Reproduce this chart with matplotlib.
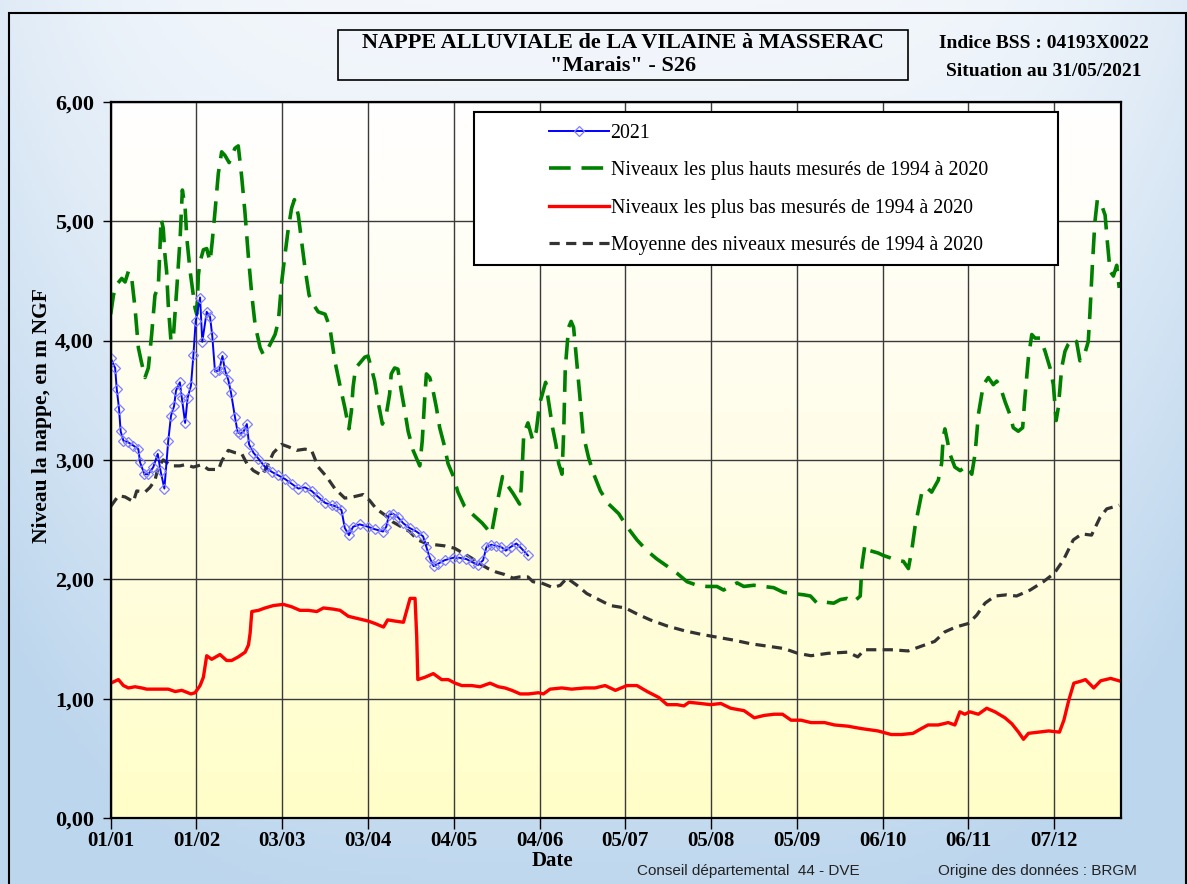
import numpy as np
import matplotlib
matplotlib.use("Agg")
import matplotlib.pyplot as plt
from matplotlib.patches import Rectangle
from matplotlib.colors import LinearSegmentedColormap

# ---------------- data ----------------
x_tick_days = [0, 31, 62, 93, 124, 155, 186, 217, 248, 279, 310, 341]
x_tick_labels = ["01/01", "01/02", "03/03", "03/04", "04/05", "04/06",
                 "05/07", "05/08", "05/09", "06/10", "06/11", "07/12"]
y_ticks = [0, 1, 2, 3, 4, 5, 6]
y_tick_labels = ["0,00", "1,00", "2,00", "3,00", "4,00", "5,00", "6,00"]

days_2021 = [0, 1.6, 2.2, 3, 3.6, 4.6, 6.1, 8.2, 10, 10.6, 12.2, 13.6, 15.4, 17, 18, 19.4,
             20.8, 21.8, 22.9, 23.6, 25, 25.7, 26.9, 27.8, 29, 29.9, 30.7, 32.3, 33.1, 34.7,
             35.9, 36.7, 37.7, 39.2, 40.4, 41.3, 42.5, 43.5, 44.9, 45.9, 46.7, 47.9, 49.2, 50,
             51.6, 53.4, 55.8, 58.2, 60.6, 63, 65.4, 67.8, 70.2, 72.6, 75, 77.5, 80, 81.5,
             83.4, 84.6, 86.1, 87.6, 90, 93, 95.4, 98.4, 99.6, 100.6, 102, 103.8, 105.7, 108,
             110.5, 112.9, 114.1, 115.3, 116.7, 118.3, 120.7, 123.7, 126, 128.5, 131, 132.8,
             134.6, 135.8, 137.6, 139.4, 141.2, 142.8, 144.5, 146.6, 148.4, 150.8]
level_2021 = [3.85, 3.77, 3.59, 3.43, 3.24, 3.16, 3.15, 3.12, 3.09, 2.98, 2.88, 2.88, 2.94, 3.05,
              2.91, 2.76, 3.16, 3.37, 3.45, 3.58, 3.65, 3.52, 3.31, 3.52, 3.62, 3.88, 4.16, 4.36,
              3.99, 4.24, 4.20, 4.04, 3.74, 3.75, 3.87, 3.75, 3.67, 3.56, 3.36, 3.23, 3.22, 3.23,
              3.30, 3.13, 3.06, 3.01, 2.94, 2.90, 2.87, 2.84, 2.80, 2.76, 2.77, 2.74, 2.69, 2.64,
              2.62, 2.61, 2.58, 2.43, 2.37, 2.44, 2.46, 2.44, 2.42, 2.40, 2.44, 2.54, 2.55, 2.52,
              2.47, 2.43, 2.40, 2.36, 2.27, 2.18, 2.11, 2.13, 2.16, 2.18, 2.18, 2.17, 2.14, 2.12,
              2.16, 2.27, 2.29, 2.28, 2.27, 2.24, 2.27, 2.30, 2.26, 2.20]

days_max = [0, 1, 2.2, 4, 5.2, 6.4, 7.6, 8.8, 10, 11, 12.4, 13.6, 14.8, 16, 17.2, 17.8, 18.2, 19,
            19.6, 20.2, 20.8, 21.8, 22.7, 23.9, 25.1, 25.9, 26.9, 27.5, 28.7, 29.5, 30.5, 31.1,
            31.7, 32.3, 33.5, 34.7, 35.9, 36.7, 37.7, 38.9, 40.1, 41.3, 42.8, 44.9, 46.1, 47.3,
            48.5, 49.7, 51, 52.2, 54, 55.2, 57, 59.4, 60.6, 61.8, 63, 64.2, 65.4, 66.4, 67.8,
            69, 70.2, 71.7, 73.3, 75, 77.5, 79.2, 81, 82.8, 84.6, 86.1, 87, 87.6, 88.5, 90,
            91.8, 93, 94.2, 95.4, 96.6, 98.2, 99.6, 100.8, 101.4, 102.6, 103.8, 105, 106.3,
            107.5, 109.3, 111.7, 112.6, 113.5, 114.1, 115.3, 116.5, 117.7, 118.9, 120.7, 121.9,
            123.7, 125.5, 127.9, 131, 134.3, 137.6, 139.4, 141.6, 143, 145.4, 147.8, 148.4,
            149.3, 150.8, 152.6, 153.8, 155, 156, 157.2, 158.5, 159.7, 160.9, 161.9, 163.1,
            163.7, 164.3, 165.5, 166.4, 167.3, 168.3, 169.5, 170.7, 172.7, 174.6, 177, 180,
            183.6, 186.6, 190.2, 193.8, 197.4, 201.1, 204.7, 208.3, 211.9, 215.5, 219.1, 221.5,
            223.9, 226.4, 228.8, 232.4, 236, 239.6, 243.2, 246.8, 250.5, 252.9, 255.3, 257.7,
            261.3, 263.7, 266.1, 268.5, 270.9, 271.5, 272.6, 274.4, 277.4, 279.2, 281.7, 284,
            286.5, 288.3, 289.5, 290.7, 291.9, 293.1, 294.9, 296.7, 299.1, 300.3, 300.9, 301.5,
            302.4, 303.3, 305.1, 307, 309.4, 311.2, 312.4, 313.6, 314.8, 315.4, 317.2, 319,
            320.2, 321.4, 323.2, 325, 326.2, 328, 329.6, 330.4, 331.7, 332.9, 334.1, 335.9,
            337.7, 339.5, 340.7, 341.7, 342.5, 343.7, 344.9, 346.1, 347.9, 349.1, 350.3, 351.8,
            353.3, 353.9, 354.8, 355.7, 356.6, 358.2, 359.4, 360.2, 361.2, 362.4, 363.6, 364.5]
level_max = [4.22, 4.38, 4.47, 4.52, 4.49, 4.58, 4.52, 4.27, 3.94, 3.83, 3.69, 3.77, 4.05, 4.38,
             4.45, 4.77, 5.02, 4.94, 4.72, 4.58, 4.30, 3.99, 4.05, 4.44, 4.86, 5.26, 5.11, 4.86,
             4.58, 4.44, 4.27, 4.22, 4.55, 4.66, 4.76, 4.77, 4.66, 4.83, 5.08, 5.40, 5.58, 5.55,
             5.49, 5.61, 5.63, 5.38, 5.08, 4.72, 4.38, 4.13, 3.94, 3.88, 3.94, 4.05, 4.16, 4.49,
             4.72, 4.94, 5.11, 5.18, 5.05, 4.83, 4.61, 4.38, 4.30, 4.24, 4.22, 4.11, 3.83, 3.63,
             3.44, 3.26, 3.41, 3.61, 3.77, 3.81, 3.86, 3.87, 3.77, 3.66, 3.49, 3.30, 3.38, 3.55,
             3.72, 3.77, 3.76, 3.58, 3.41, 3.24, 3.08, 2.95, 3.16, 3.52, 3.72, 3.69, 3.58, 3.44,
             3.27, 3.11, 2.97, 2.87, 2.73, 2.61, 2.54, 2.47, 2.38, 2.61, 2.86, 2.80, 2.72, 2.63,
             2.77, 3.22, 3.31, 3.16, 3.24, 3.47, 3.55, 3.65, 3.45, 3.27, 3.13, 2.97, 2.88, 3.22,
             3.77, 4.11, 4.16, 4.11, 3.86, 3.55, 3.22, 3.02, 2.88, 2.74, 2.63, 2.55, 2.44, 2.33,
             2.24, 2.17, 2.11, 2.05, 1.98, 1.95, 1.94, 1.94, 1.91, 1.94, 1.97, 1.94, 1.95, 1.94,
             1.93, 1.89, 1.88, 1.87, 1.86, 1.80, 1.81, 1.80, 1.83, 1.84, 1.81, 1.86, 2.11, 2.29,
             2.24, 2.22, 2.20, 2.18, 2.16, 2.15, 2.09, 2.24, 2.44, 2.58, 2.72, 2.77, 2.73, 2.83,
             2.97, 3.19, 3.26, 3.16, 3.05, 2.94, 2.91, 2.95, 2.88, 3.05, 3.38, 3.55, 3.63, 3.69,
             3.63, 3.66, 3.62, 3.49, 3.38, 3.27, 3.24, 3.27, 3.52, 3.86, 4.05, 4.02, 4.02, 3.91,
             3.77, 3.63, 3.33, 3.44, 3.77, 3.91, 3.97, 4.02, 3.99, 3.83, 3.87, 3.99, 4.22, 4.63,
             4.99, 5.18, 5.13, 5.05, 4.83, 4.58, 4.54, 4.63, 4.44]

days_min = [0, 2.8, 4.6, 6.4, 8.8, 11.2, 13, 16, 20.8, 23.3, 25.7, 29, 30.5, 32.3, 33.5, 34.7,
            36.5, 39.5, 41.9, 43.7, 46.1, 48.6, 49.8, 50.4, 51, 53.4, 55.8, 58.8, 62.4, 65.4,
            68.4, 71.4, 74.5, 76.9, 80.5, 82.9, 85.9, 89.5, 93.1, 95.5, 98.6, 100.1, 102.8,
            105.8, 107, 108.2, 110, 110.6, 111, 113.6, 116.6, 119.6, 122, 124.5, 126.9, 130.5,
            133.5, 137.1, 140.1, 142.5, 145, 148, 151, 154.6, 156.4, 158.8, 163, 166.6, 171.4,
            175, 178.7, 182.4, 186.6, 190.2, 193.9, 198.1, 201.1, 204.7, 207.2, 209, 213.2,
            216.8, 220.5, 224.1, 228.9, 232.6, 236.2, 239.8, 242.8, 245.9, 249.5, 253.1, 258,
            261.6, 266.4, 271.2, 277.3, 282.1, 285.8, 290, 293, 295.4, 299.1, 302.7, 305.1,
            306.9, 308.7, 310.5, 313.6, 316.6, 319.6, 323.2, 325.7, 328.1, 329.9, 331.7, 335.4,
            339, 342.9, 344.5, 346.3, 348.1, 351.1, 352.3, 355.3, 357.8, 361.4, 364.4]
level_min = [1.13, 1.16, 1.11, 1.09, 1.10, 1.09, 1.08, 1.08, 1.08, 1.06, 1.07, 1.04, 1.05, 1.11,
             1.18, 1.36, 1.33, 1.37, 1.32, 1.32, 1.35, 1.39, 1.45, 1.55, 1.73, 1.74, 1.76, 1.78,
             1.79, 1.77, 1.74, 1.74, 1.73, 1.76, 1.75, 1.74, 1.69, 1.67, 1.65, 1.63, 1.60, 1.66,
             1.65, 1.64, 1.74, 1.84, 1.84, 1.52, 1.16, 1.18, 1.21, 1.16, 1.16, 1.13, 1.11, 1.11,
             1.10, 1.13, 1.10, 1.09, 1.07, 1.04, 1.04, 1.05, 1.04, 1.08, 1.09, 1.08, 1.09, 1.09,
             1.11, 1.07, 1.11, 1.11, 1.06, 1.01, 0.95, 0.95, 0.94, 0.97, 0.96, 0.95, 0.96, 0.92,
             0.90, 0.84, 0.86, 0.87, 0.87, 0.82, 0.82, 0.80, 0.80, 0.78, 0.77, 0.75, 0.73, 0.70,
             0.70, 0.71, 0.75, 0.78, 0.78, 0.80, 0.78, 0.89, 0.87, 0.89, 0.87, 0.92, 0.89, 0.84,
             0.79, 0.72, 0.66, 0.71, 0.72, 0.73, 0.72, 0.82, 0.99, 1.13, 1.15, 1.16, 1.09, 1.15,
             1.17, 1.15]

days_mean = [0, 2.8, 5.2, 8.2, 9.4, 12.4, 14.2, 16, 17.2, 19, 22, 25, 26.9, 29.9, 32.9, 35.3,
             39, 40.1, 42.5, 45, 47.4, 49.2, 51.6, 54.6, 56.4, 58.8, 61.8, 64.2, 67.2, 70.2,
             72.6, 75, 78, 81, 84.6, 87.6, 91.2, 93.6, 96, 99, 102, 105, 108, 111, 114, 117,
             120.7, 124.3, 127.3, 130.3, 133.4, 136.4, 139.4, 142.4, 145.4, 147.8, 150.8, 152.6,
             155.6, 159.9, 162.5, 164.9, 168.5, 172.1, 176.4, 180.6, 186, 190.2, 195, 201,
             207.2, 213.2, 218, 225.3, 231.3, 237.4, 243.4, 248.3, 253.1, 259.2, 266.4, 270,
             272.5, 277.3, 282.1, 288.2, 293, 297.8, 301.5, 305.4, 310, 313, 316, 319.6, 323.8,
             327.4, 332.3, 337.1, 341, 344.3, 347.9, 351, 354.5, 357.6, 360, 364.5]
level_mean = [2.61, 2.70, 2.69, 2.65, 2.74, 2.73, 2.77, 2.83, 2.94, 3.00, 2.95, 2.95, 2.96,
              2.94, 2.96, 2.92, 2.92, 2.99, 3.08, 3.06, 3.05, 2.97, 2.91, 2.87, 2.94, 3.06,
              3.13, 3.11, 3.08, 3.09, 3.08, 2.94, 2.86, 2.76, 2.68, 2.69, 2.71, 2.66, 2.59,
              2.54, 2.48, 2.44, 2.40, 2.33, 2.30, 2.29, 2.28, 2.26, 2.22, 2.18, 2.13, 2.09,
              2.06, 2.04, 2.01, 2.02, 2.02, 1.98, 1.97, 1.93, 1.95, 2.01, 1.95, 1.88, 1.83,
              1.78, 1.76, 1.71, 1.66, 1.61, 1.57, 1.54, 1.52, 1.49, 1.46, 1.44, 1.42, 1.38,
              1.36, 1.38, 1.39, 1.35, 1.41, 1.41, 1.41, 1.40, 1.44, 1.48, 1.56, 1.60, 1.63,
              1.70, 1.80, 1.86, 1.87, 1.86, 1.91, 1.98, 2.05, 2.16, 2.33, 2.38, 2.37, 2.52,
              2.59, 2.62]

series_labels = ["2021",
                 "Niveaux les plus hauts mesurés de 1994 à 2020",
                 "Niveaux les plus bas mesurés de 1994 à 2020",
                 "Moyenne des niveaux mesurés de 1994 à 2020"]

# ---------------- figure ----------------
W, H = 1187, 884
fig = plt.figure(figsize=(W / 100, H / 100), dpi=100)

# figure background gradient (near white at top, light blue at bottom / sides)
bg_ax = fig.add_axes([0, 0, 1, 1], zorder=-10)
yy = np.linspace(0, 1, 200)[:, None]
xx = np.linspace(0, 1, 300)[None, :]
edge = np.clip(np.abs(xx - 0.5) * 2, 0, 1) ** 4
t = np.clip(0.05 + 0.9 * yy ** 1.2 + 0.35 * edge, 0, 1)
top = np.array([0.965, 0.975, 0.99])
bot = np.array([0.74, 0.84, 0.93])
img = top[None, None, :] * (1 - t[..., None]) + bot[None, None, :] * t[..., None]
bg_ax.imshow(img, extent=[0, 1, 0, 1], aspect="auto", origin="upper")
bg_ax.set_xlim(0, 1)
bg_ax.set_ylim(0, 1)
bg_ax.axis("off")
bg_ax.add_patch(Rectangle((9 / W, -0.01), (W - 10) / W, 1.01 - 13 / H, fill=False,
                          edgecolor="black", linewidth=1.5, transform=bg_ax.transAxes))

ax_left, ax_right, ax_top, ax_bot = 110.7, 1120.6, 101.7, 818.1
ax = fig.add_axes([ax_left / W, (H - ax_bot) / H, (ax_right - ax_left) / W, (ax_bot - ax_top) / H])

# plot area gradient white -> light yellow
cmap = LinearSegmentedColormap.from_list("wy", ["#ffffff", "#fffde8", "#ffffc8"])
grad = np.linspace(0, 1, 256)[:, None]
ax.imshow(grad, cmap=cmap, extent=[0, 1, 0, 1], transform=ax.transAxes,
          aspect="auto", origin="upper", zorder=0)

ax.set_xlim(0, 365)
ax.set_ylim(0, 6)

serif = "Liberation Serif"
ax.set_xticks(x_tick_days)
ax.set_xticklabels(x_tick_labels, fontfamily=serif, fontweight="bold", fontsize=15)
ax.set_yticks(y_ticks)
ax.set_yticklabels(y_tick_labels, fontfamily=serif, fontweight="bold", fontsize=16)
ax.tick_params(axis="x", direction="out", length=8, width=1, pad=1)
ax.tick_params(axis="y", direction="out", length=6, width=1, pad=6)
ax.grid(True, color="#3a3a3a", linewidth=1.0, zorder=1)
ax.set_axisbelow(False)
for s in ax.spines.values():
    s.set_color("black")
    s.set_linewidth(1.6)
    s.set_zorder(6)

l_max, = ax.plot(days_max, level_max, color="#008000", linewidth=2.6,
                 linestyle=(0, (6, 3)), zorder=3)
l_min, = ax.plot(days_min, level_min, color="#ff0000", linewidth=2.4, zorder=3)
l_mean, = ax.plot(days_mean, level_mean, color="#333333", linewidth=2.3,
                  linestyle=(0, (3.2, 2.0)), zorder=3)
l_2021, = ax.plot(days_2021, level_2021, color="#0000ff", linewidth=1.4, marker="D",
                  markersize=5.5, markerfacecolor="none", markeredgecolor="#7f7fff",
                  markeredgewidth=0.9, zorder=4)


def axx(px):
    return (px - ax_left) / (ax_right - ax_left)


def axy(py):
    return (ax_bot - py) / (ax_bot - ax_top)


ax.set_ylabel("Niveau la nappe, en m NGF", fontfamily=serif, fontweight="bold", fontsize=15.5)
ax.yaxis.set_label_coords(axx(42), axy(416))
ax.set_xlabel("Date", fontfamily=serif, fontweight="bold", fontsize=15)
ax.xaxis.set_label_coords(axx(552), axy(861))
ax.xaxis.label.set_va("center")
ax.yaxis.label.set_va("center")

# legend box
ax.add_patch(Rectangle((axx(474), axy(265)), axx(1058) - axx(474), axy(112) - axy(265),
                       transform=ax.transAxes, facecolor="white", edgecolor="black",
                       linewidth=1.5, zorder=7))
leg = ax.legend([l_2021, l_max, l_min, l_mean], series_labels,
                loc="upper left", bbox_to_anchor=(axx(541), axy(116)),
                frameon=False, handlelength=3.0, handletextpad=0.1, labelspacing=0.93,
                prop={"family": serif, "size": 14.3}, borderaxespad=0)
leg.set_zorder(8)

# title box
fig.patches.append(Rectangle((338 / W, 1 - 80 / H), (908 - 338) / W, 50 / H, fill=False,
                             edgecolor="black", linewidth=1.2, transform=fig.transFigure,
                             figure=fig))
fig.text(623 / W, 1 - 43 / H, "NAPPE ALLUVIALE de LA VILAINE à MASSERAC", ha="center",
         va="center", fontfamily=serif, fontweight="bold", fontsize=16)
fig.text(623 / W, 1 - 66 / H, "\"Marais\" - S26", ha="center", va="center",
         fontfamily=serif, fontweight="bold", fontsize=16)
fig.text(1044 / W, 1 - 43 / H, "Indice BSS : 04193X0022", ha="center", va="center",
         fontfamily=serif, fontweight="bold", fontsize=14)
fig.text(1044 / W, 1 - 72 / H, "Situation au 31/05/2021", ha="center", va="center",
         fontfamily=serif, fontweight="bold", fontsize=14)

fig.text(637 / W, 1 - 871 / H, "Conseil départemental  44 - DVE", ha="left", va="center",
         fontfamily="Liberation Sans", fontsize=11, color="#222222")
fig.text(938 / W, 1 - 871 / H, "Origine des données : BRGM", ha="left", va="center",
         fontfamily="Liberation Sans", fontsize=11, color="#222222")

fig.savefig("out.png", dpi=100)
